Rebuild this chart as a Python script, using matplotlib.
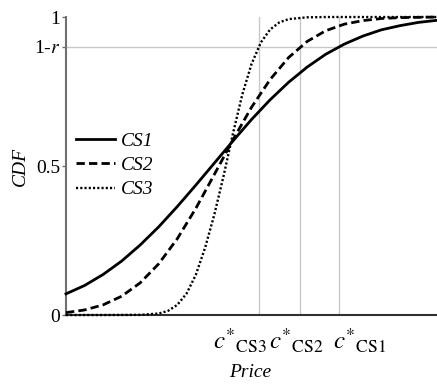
import matplotlib
matplotlib.use("Agg")
import matplotlib.pyplot as plt
import matplotlib.transforms as mtransforms

plt.rcParams['font.family'] = ['Liberation Serif', 'DejaVu Serif']
plt.rcParams['mathtext.fontset'] = 'stix'

# price axis runs 0..10
price = [0, 0.5, 1.0, 1.5, 2.0, 2.5, 3.0, 3.5, 4.0, 4.5, 5.0,
         5.5, 6.0, 6.5, 7.0, 7.5, 8.0, 8.5, 9.0, 9.5, 10.0]
cdf_cs1 = [0.071, 0.099, 0.136, 0.181, 0.235, 0.296, 0.364, 0.436, 0.510, 0.584, 0.656,
           0.722, 0.781, 0.832, 0.875, 0.909, 0.936, 0.957, 0.971, 0.982, 0.989]
cdf_cs2 = [0.008, 0.017, 0.034, 0.063, 0.108, 0.172, 0.256, 0.358, 0.472, 0.588, 0.697,
           0.790, 0.864, 0.918, 0.954, 0.976, 0.988, 0.995, 0.998, 0.999, 1.0]

price_cs3 = [0, 1.0, 2.0, 2.5, 2.75, 3.0, 3.25, 3.5, 3.75, 4.0, 4.25, 4.5,
             4.75, 5.0, 5.25, 5.5, 5.75, 6.0, 6.5, 7.0, 10.0]
cdf_cs3 = [0.0, 0.0, 0.0005, 0.005, 0.014, 0.034, 0.072, 0.135, 0.226, 0.338, 0.468, 0.609,
           0.739, 0.842, 0.914, 0.958, 0.982, 0.993, 0.999, 1.0, 1.0]

c_star = [5.19, 6.31, 7.35]
c_labels = [r'$c^{*}{}_{\mathrm{CS3}}$', r'$c^{*}{}_{\mathrm{CS2}}$', r'$c^{*}{}_{\mathrm{CS1}}$']
one_minus_r = 0.9

fig = plt.figure(figsize=(4.37, 3.87), dpi=100)
ax = fig.add_axes([0.151, 0.186, 0.849, 0.770])

grid_col = '#c8c8c8'
ax.axhline(one_minus_r, color=grid_col, lw=1, zorder=1)
for c in c_star:
    ax.axvline(c, color=grid_col, lw=1, zorder=1)

ax.plot(price, cdf_cs1, color='black', lw=2, ls='-', label='CS1', clip_on=False, zorder=3)
ax.plot(price, cdf_cs2, color='black', lw=2, ls=(0, (3, 1.5)), label='CS2', clip_on=False, zorder=3)
ax.plot(price_cs3, cdf_cs3, color='black', lw=1.7, ls=(0, (0.9, 0.9)), label='CS3', clip_on=False, zorder=3)

ax.set_xlim(0, 10)
ax.set_ylim(0, 1)

ax.set_yticks([0, 0.5, one_minus_r, 1])
ax.set_yticklabels(['0', '0.5', r'1-$r$', '1'], fontsize=14)
ax.set_xticks(c_star)
ax.set_xticklabels([])
ax.tick_params(axis='x', length=0)
ax.tick_params(axis='y', length=3, width=1, color='#707070', pad=1)

# c* labels sit a little off their lines in the original
trans = mtransforms.blended_transform_factory(ax.transData, ax.transAxes)
label_shift = [-0.5, -0.1, 0.57]
for c, lab, dx in zip(c_star, c_labels, label_shift):
    ax.text(c + dx, -0.04, lab, transform=trans, ha='center', va='top', fontsize=18)

ax.set_xlabel('Price', fontsize=14, style='italic')
ax.xaxis.set_label_coords(0.496, -0.165)
ax.set_ylabel('CDF', fontsize=14, style='italic', labelpad=4)

for s in ['top', 'right']:
    ax.spines[s].set_visible(False)
ax.spines['left'].set_color('#707070')
ax.spines['left'].set_linewidth(1.5)
ax.spines['bottom'].set_color('#303030')
ax.spines['bottom'].set_linewidth(1.5)

leg = ax.legend(loc='upper left', bbox_to_anchor=(-0.01, 0.66), frameon=False,
                prop={'size': 14, 'style': 'italic'}, handlelength=2.0,
                handletextpad=0.3, labelspacing=0.35, borderaxespad=0.3)

fig.savefig('out.png', dpi=100)
